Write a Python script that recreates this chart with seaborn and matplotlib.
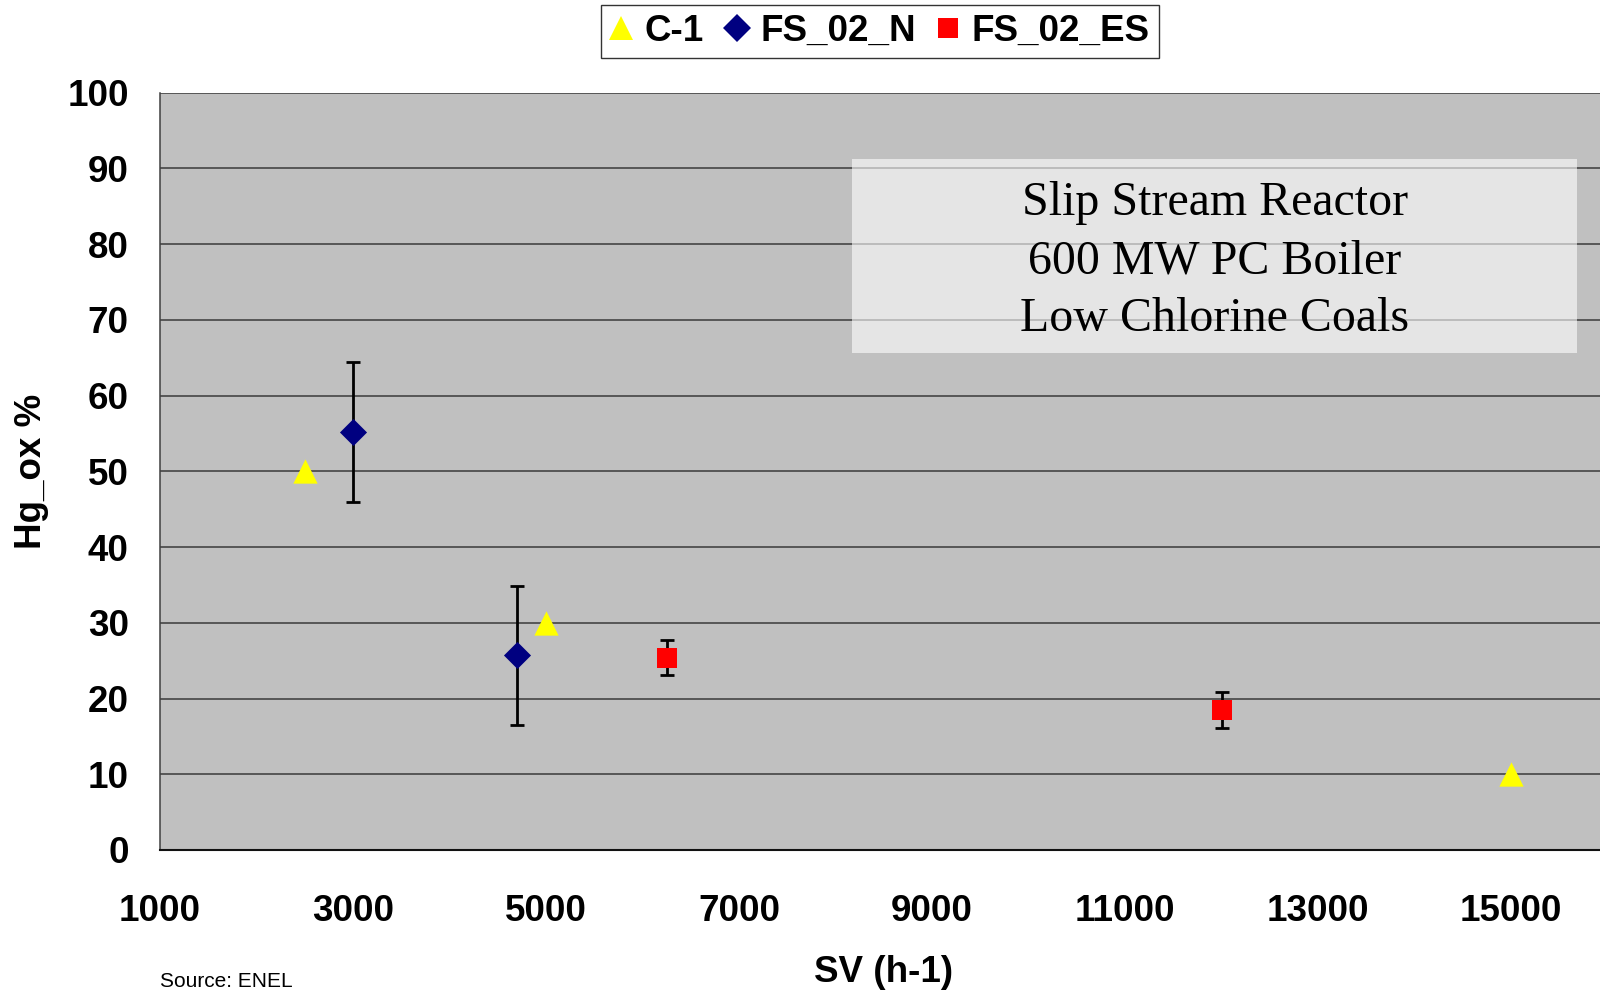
import matplotlib
matplotlib.use("Agg")
import matplotlib.pyplot as plt
from matplotlib.lines import Line2D
from matplotlib.patches import Rectangle
import seaborn as sns
import pandas as pd

# --- data -------------------------------------------------------------
c1_sv = [2500, 5000, 15000]
c1_hg = [50, 30, 10]

fs02n_sv = [3000, 4700]
fs02n_hg = [55.2, 25.7]
fs02n_err = [9.2, 9.2]

fs02es_sv = [6250, 12000]
fs02es_hg = [25.4, 18.5]
fs02es_err = [2.35, 2.35]

series_names = ["C-1", "FS_02_N", "FS_02_ES"]
y_ticks = list(range(0, 101, 10))
x_ticks = list(range(1000, 15001, 2000))
box_lines = ["Slip Stream Reactor", "600 MW PC Boiler", "Low Chlorine Coals"]

# --- style --------------------------------------------------------------
sns.set_style("white")
plt.rcParams["font.family"] = ["Liberation Sans", "DejaVu Sans"]
plt.rcParams["text.color"] = "black"
plt.rcParams["axes.labelcolor"] = "black"
plt.rcParams["xtick.labelcolor"] = "black"
plt.rcParams["ytick.labelcolor"] = "black"

colors = {"C-1": "#FFFF00", "FS_02_N": "#000080", "FS_02_ES": "#FF0000"}
markers = {"C-1": "^", "FS_02_N": "D", "FS_02_ES": "s"}
msize = {"C-1": 17.5, "FS_02_N": 13.8, "FS_02_ES": 14.8}

fig = plt.figure(figsize=(16, 9.93), dpi=100)
ax = fig.add_axes([0.1, 0.14401, 0.9047, 0.76274])
ax.set_facecolor("#C0C0C0")

frames = {
    "C-1": pd.DataFrame({"SV": c1_sv, "Hg": c1_hg}),
    "FS_02_N": pd.DataFrame({"SV": fs02n_sv, "Hg": fs02n_hg, "err": fs02n_err}),
    "FS_02_ES": pd.DataFrame({"SV": fs02es_sv, "Hg": fs02es_hg, "err": fs02es_err}),
}

# error bars sit behind the markers
for name in ["FS_02_N", "FS_02_ES"]:
    d = frames[name]
    ax.errorbar(d["SV"], d["Hg"], yerr=d["err"], fmt="none", ecolor="black",
                elinewidth=2.0, capsize=5, capthick=2.0, zorder=4)

for name in series_names:
    sns.scatterplot(data=frames[name], x="SV", y="Hg", ax=ax,
                    marker=markers[name], color=colors[name],
                    s=msize[name] ** 2, linewidth=0, zorder=5, legend=False)

# axes limits, ticks, grid
ax.set_xlim(1000, 16000)
ax.set_ylim(0, 100)
ax.set_xticks(x_ticks)
ax.set_yticks(y_ticks)
ax.yaxis.grid(True, color="#3a3a3a", linewidth=1.1)
ax.xaxis.grid(False)
ax.set_axisbelow(True)

for s in ["top", "right"]:
    ax.spines[s].set_visible(False)
ax.spines["left"].set_color("#404040")
ax.spines["left"].set_linewidth(1.1)
ax.spines["bottom"].set_color("#111111")
ax.spines["bottom"].set_linewidth(1.5)

ax.tick_params(axis="y", direction="out", length=8.5, width=1.1, color="#404040",
               labelcolor="black", pad=14, labelsize=26.5)
ax.tick_params(axis="x", direction="out", length=8.5, width=1.1, color="#404040",
               labelcolor="black", pad=23, labelsize=26.5)
for lbl in ax.get_xticklabels() + ax.get_yticklabels():
    lbl.set_fontweight("bold")

ax.set_xlabel("SV (h-1)", fontsize=26.5, fontweight="bold", va="center", color="black")
ax.set_ylabel("Hg_ox %", fontsize=26.5, fontweight="bold", va="center", color="black")
ax.xaxis.set_label_coords(0.5, -0.162)
ax.yaxis.set_label_coords(-0.0885, 0.5)

# annotation box
ax.add_patch(Rectangle((0.478, 0.656), 0.501, 0.256, transform=ax.transAxes,
                       facecolor="white", alpha=0.6, edgecolor="none", zorder=3))
for txt, yb in zip(box_lines, [0.8384, 0.7618, 0.6853]):
    ax.text(0.7286, yb, txt, transform=ax.transAxes, ha="center", va="baseline",
            fontsize=34.5, family=["Liberation Serif", "DejaVu Serif"],
            color="black", zorder=4)

# legend across the top
handles = [Line2D([], [], linestyle="none", marker=markers[n], color=colors[n],
                  markersize=msize[n], markeredgewidth=0)
           for n in series_names]
leg = fig.legend(handles, series_names, loc="upper center", ncol=3,
                 bbox_to_anchor=(0.55, 0.995), frameon=True, fancybox=False,
                 prop={"size": 26.5, "weight": "bold"},
                 handlelength=0.6, handletextpad=0.34, columnspacing=0.58,
                 borderpad=0.25, borderaxespad=0)
leg.get_frame().set_edgecolor("black")
leg.get_frame().set_linewidth(1.0)
for t in leg.get_texts():
    t.set_color("black")

fig.text(0.1, 1 - 987 / 993, "Source: ENEL", fontsize=15, va="baseline", ha="left",
         color="black")

fig.savefig("out.png", dpi=100)
